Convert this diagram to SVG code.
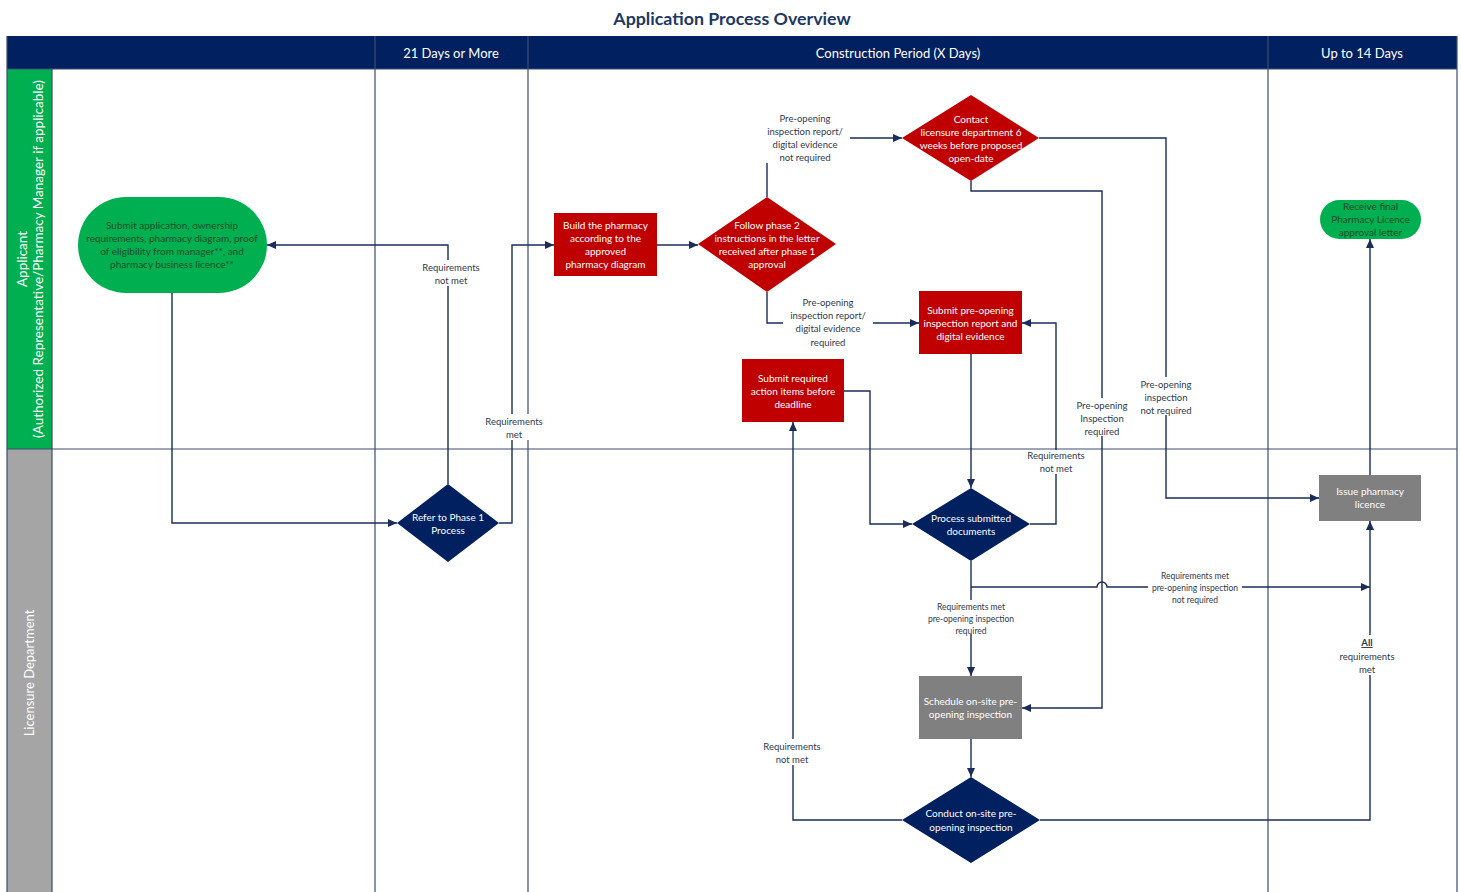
<svg xmlns="http://www.w3.org/2000/svg" width="1461" height="892" viewBox="0 0 1461 892">
<style>
text{font-family:Lato,"Open Sans","Liberation Sans",sans-serif;text-anchor:middle}
.title{font-size:17.8px;font-weight:bold;fill:#203864}
.hd{font-size:13px;fill:#fff}
.lane{font-size:13.5px;fill:#fff}
.nt{font-size:10px;fill:#fff}
.gt{font-size:10px;fill:#1d4a2a}
.lb{font-size:9.5px;fill:#2f3a4f}
.sm{font-size:8.5px;fill:#2f3a4f}
.ln{stroke:#3d4d70;stroke-width:1.2;fill:none}
.cn{stroke:#1b2b5b;stroke-width:1.4;fill:none}
.red{fill:#c00000}
.navy{fill:#002060}
.grn{fill:#00b050}
.gry{fill:#808080}
.bg{fill:#fff}
</style>
<defs>
<marker id="ah" markerUnits="userSpaceOnUse" markerWidth="10" markerHeight="10" refX="9" refY="4" orient="auto">
<path d="M0,0 L9,4 L0,8 z" fill="#1b2b5b"/>
</marker>
</defs>
<rect width="1461" height="892" fill="#fff"/>
<text class="title" x="732" y="25">Application Process Overview</text>

<g id="lanes">
<rect x="7" y="36" width="1450" height="33" fill="#002060"/>
<rect x="7" y="69" width="45" height="380" fill="#00b050"/>
<rect x="7" y="449" width="45" height="443" fill="#a5a5a5"/>
<path class="ln" d="M7,36 V892 M1457,36 V892 M52,69 V892 M375,36 V892 M528,36 V892 M1268,36 V892 M7,449 H1457 M7,69 H1457"/>
<text class="hd" x="451" y="58">21 Days or More</text>
<text class="hd" x="898" y="58">Construction Period (X Days)</text>
<text class="hd" x="1362" y="58">Up to 14 Days</text>
<text class="lane" transform="translate(27,259) rotate(-90)">Applicant</text>
<text class="lane" transform="translate(43,259) rotate(-90)">(Authorized Representative/Pharmacy Manager if applicable)</text>
<text class="lane" transform="translate(34,673) rotate(-90)" style="font-size:13px">Licensure Department</text>
</g>

<g id="connectors">
<path class="cn" marker-end="url(#ah)" d="M172,293 V523 H397"/>
<path class="cn" marker-end="url(#ah)" d="M448,484 V245 H267"/>
<path class="cn" marker-end="url(#ah)" d="M499,523 H512 V245 H554"/>
<path class="cn" marker-end="url(#ah)" d="M657,245 H698"/>
<path class="cn" marker-end="url(#ah)" d="M767,197 V138 H902"/>
<path class="cn" marker-end="url(#ah)" d="M767,292 V323 H919"/>
<path class="cn" marker-end="url(#ah)" d="M1039,138 H1166 V498 H1319"/>
<path class="cn" marker-end="url(#ah)" d="M971,181 V191 H1102 V708 H1022"/>
<path class="cn" marker-end="url(#ah)" d="M971,354 V488"/>
<path class="cn" marker-end="url(#ah)" d="M1030,524 H1056 V323 H1022"/>
<path class="cn" marker-end="url(#ah)" d="M844,391 H870 V524 H912"/>
<path class="cn" marker-end="url(#ah)" d="M971,587 H1097 A5,5 0 0 1 1107,587 H1370"/>
<path class="cn" marker-end="url(#ah)" d="M971,561 V676"/>
<path class="cn" marker-end="url(#ah)" d="M971,739 V777"/>
<path class="cn" marker-end="url(#ah)" d="M902,820 H793 V422"/>
<path class="cn" marker-end="url(#ah)" d="M1040,820 H1370 V521"/>
<path class="cn" marker-end="url(#ah)" d="M1370,475 V239"/>
</g>

<g id="labels">
<rect class="bg" x="418" y="260" width="66" height="26"/>
<text class="lb" x="451" y="271">Requirements</text>
<text class="lb" x="451" y="284">not met</text>
<rect class="bg" x="481" y="414" width="66" height="26"/>
<text class="lb" x="514" y="425">Requirements</text>
<text class="lb" x="514" y="438">met</text>
<rect class="bg" x="760" y="111" width="90" height="52"/>
<text class="lb" x="805" y="122">Pre-opening</text>
<text class="lb" x="805" y="135">inspection report/</text>
<text class="lb" x="805" y="148">digital evidence</text>
<text class="lb" x="805" y="161">not required</text>
<rect class="bg" x="783" y="295" width="90" height="52"/>
<text class="lb" x="828" y="306">Pre-opening</text>
<text class="lb" x="828" y="319">inspection report/</text>
<text class="lb" x="828" y="332">digital evidence</text>
<text class="lb" x="828" y="346">required</text>
<rect class="bg" x="1135" y="377" width="62" height="38"/>
<text class="lb" x="1166" y="388">Pre-opening</text>
<text class="lb" x="1166" y="401">inspection</text>
<text class="lb" x="1166" y="414">not required</text>
<rect class="bg" x="1073" y="398" width="58" height="38"/>
<text class="lb" x="1102" y="409">Pre-opening</text>
<text class="lb" x="1102" y="422">Inspection</text>
<text class="lb" x="1102" y="435">required</text>
<rect class="bg" x="1023" y="450" width="66" height="24"/>
<text class="lb" x="1056" y="459">Requirements</text>
<text class="lb" x="1056" y="472">not met</text>
<rect class="bg" x="1148" y="570" width="94" height="34"/>
<text class="sm" x="1195" y="579">Requirements met</text>
<text class="sm" x="1195" y="591">pre-opening inspection</text>
<text class="sm" x="1195" y="603">not required</text>
<rect class="bg" x="924" y="600" width="94" height="34"/>
<text class="sm" x="971" y="610">Requirements met</text>
<text class="sm" x="971" y="622">pre-opening inspection</text>
<text class="sm" x="971" y="634">required</text>
<rect class="bg" x="759" y="739" width="66" height="26"/>
<text class="lb" x="792" y="750">Requirements</text>
<text class="lb" x="792" y="763">not met</text>
<rect class="bg" x="1335" y="635" width="64" height="40"/>
<text class="lb" x="1367" y="646" style="font-weight:bold;text-decoration:underline">All</text>
<text class="lb" x="1367" y="660">requirements</text>
<text class="lb" x="1367" y="673">met</text>
</g>

<g id="n-submit-app">
<rect class="grn" x="78" y="197" width="189" height="96" rx="48"/>
<text class="gt" x="172" y="228.5">Submit application, ownership</text>
<text class="gt" x="172" y="241.5">requirements, pharmacy diagram, proof</text>
<text class="gt" x="172" y="254.5">of eligibility from manager**, and</text>
<text class="gt" x="172" y="267.5">pharmacy business licence**</text>
</g>
<g id="n-refer-phase1">
<polygon class="navy" points="448,484 499,523 448,562 397,523"/>
<text class="nt" x="448" y="520.5">Refer to Phase 1</text>
<text class="nt" x="448" y="533.5">Process</text>
</g>
<g id="n-build">
<rect class="red" x="554" y="213" width="103" height="63"/>
<text class="nt" x="605.5" y="228.5">Build the pharmacy</text>
<text class="nt" x="605.5" y="241.5">according to the</text>
<text class="nt" x="605.5" y="254.5">approved</text>
<text class="nt" x="605.5" y="268">pharmacy diagram</text>
</g>
<g id="n-follow-phase2">
<polygon class="red" points="767,197 836,244 767,292 698,244"/>
<text class="nt" x="767" y="228.5">Follow phase 2</text>
<text class="nt" x="767" y="241.5">instructions in the letter</text>
<text class="nt" x="767" y="254.5">received after phase 1</text>
<text class="nt" x="767" y="268">approval</text>
</g>
<g id="n-contact">
<polygon class="red" points="971,95 1039,138 971,181 902,138"/>
<text class="nt" x="971" y="122.5">Contact</text>
<text class="nt" x="971" y="135.5">licensure department 6</text>
<text class="nt" x="971" y="148.5">weeks before proposed</text>
<text class="nt" x="971" y="161.5">open-date</text>
</g>
<g id="n-submit-preopening">
<rect class="red" x="919" y="291" width="103" height="63"/>
<text class="nt" x="970.5" y="313.5">Submit pre-opening</text>
<text class="nt" x="970.5" y="326.5">inspection report and</text>
<text class="nt" x="970.5" y="339.5">digital evidence</text>
</g>
<g id="n-submit-action">
<rect class="red" x="742" y="359" width="102" height="63"/>
<text class="nt" x="793" y="381.5">Submit required</text>
<text class="nt" x="793" y="394.5">action items before</text>
<text class="nt" x="793" y="407.5">deadline</text>
</g>
<g id="n-process-docs">
<polygon class="navy" points="971,488 1030,524 971,561 912,524"/>
<text class="nt" x="971" y="521.5">Process submitted</text>
<text class="nt" x="971" y="534.5">documents</text>
</g>
<g id="n-schedule">
<rect class="gry" x="919" y="676" width="103" height="63"/>
<text class="nt" x="970.5" y="704.5">Schedule on-site pre-</text>
<text class="nt" x="970.5" y="717.5">opening inspection</text>
</g>
<g id="n-conduct">
<polygon class="navy" points="971,777 1040,820 971,863 902,820"/>
<text class="nt" x="971" y="816.5">Conduct on-site pre-</text>
<text class="nt" x="971" y="830.5">opening inspection</text>
</g>
<g id="n-issue">
<rect class="gry" x="1319" y="475" width="102" height="46"/>
<text class="nt" x="1370" y="494.5">Issue pharmacy</text>
<text class="nt" x="1370" y="507.5">licence</text>
</g>
<g id="n-receive">
<rect class="grn" x="1320" y="200" width="101" height="39" rx="19.5"/>
<text class="gt" x="1370.5" y="209.5">Receive final</text>
<text class="gt" x="1370.5" y="222.5">Pharmacy Licence</text>
<text class="gt" x="1370.5" y="236">approval letter</text>
</g>
</svg>
